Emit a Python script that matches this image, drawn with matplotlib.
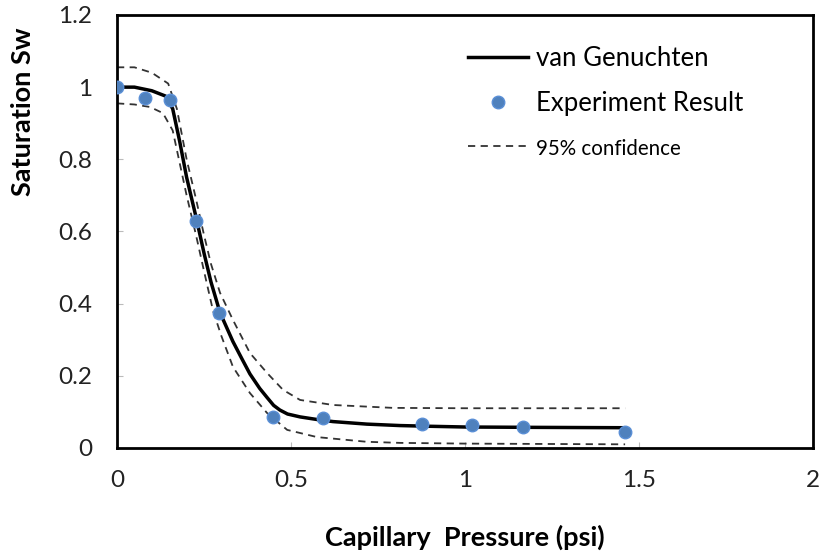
import matplotlib.pyplot as plt

# experiment points
exp_x = [0.0, 0.080, 0.152, 0.227, 0.293, 0.448, 0.592, 0.876, 1.020, 1.167, 1.460]
exp_y = [1.0, 0.970, 0.965, 0.629, 0.375, 0.086, 0.083, 0.066, 0.064, 0.058, 0.044]

# van Genuchten fit
fit_x = [0.0, 0.05, 0.10, 0.14, 0.16, 0.18, 0.20, 0.227, 0.25, 0.27, 0.296, 0.333,
         0.36, 0.382, 0.41, 0.431, 0.45, 0.468, 0.49, 0.526, 0.58, 0.621, 0.718,
         0.813, 0.9, 1.0, 1.2, 1.46]
fit_y = [1.0, 1.0, 0.99, 0.975, 0.94, 0.85, 0.75, 0.64, 0.54, 0.46, 0.375, 0.295,
         0.245, 0.205, 0.165, 0.14, 0.118, 0.105, 0.094, 0.086, 0.078, 0.073, 0.066,
         0.062, 0.060, 0.058, 0.057, 0.056]

# 95% confidence band
up_x = [0.0, 0.05, 0.10, 0.147, 0.172, 0.20, 0.227, 0.25, 0.27, 0.296, 0.333, 0.382,
        0.431, 0.477, 0.526, 0.621, 0.793, 1.0, 1.46]
up_y = [1.055, 1.055, 1.04, 1.01, 0.94, 0.80, 0.69, 0.59, 0.51, 0.43, 0.355, 0.263,
        0.208, 0.161, 0.133, 0.119, 0.111, 0.11, 0.11]
lo_x = [0.0, 0.05, 0.095, 0.132, 0.16, 0.18, 0.20, 0.227, 0.25, 0.276, 0.30, 0.333,
        0.382, 0.431, 0.489, 0.575, 0.718, 0.813, 1.0, 1.46]
lo_y = [0.955, 0.952, 0.945, 0.928, 0.88, 0.79, 0.70, 0.59, 0.49, 0.38, 0.31, 0.225,
        0.152, 0.097, 0.05, 0.03, 0.017, 0.014, 0.012, 0.010]

xticks = [0, 0.5, 1, 1.5, 2]
yticks = [0, 0.2, 0.4, 0.6, 0.8, 1, 1.2]

plt.rcParams['font.family'] = ['Lato', 'DejaVu Sans']

fig = plt.figure(figsize=(8.2, 5.53), dpi=100)
ax = fig.add_axes([0.1427, 0.19, 0.8488, 0.7829])

ax.plot(fit_x, fit_y, color='black', lw=2.5, label='van Genuchten', zorder=3)
ax.plot(exp_x, exp_y, 'o', color='#4F81BD', ms=9, mec='#5a8fd6', label='Experiment Result', zorder=4)
ax.plot(up_x, up_y, color='#333333', lw=1.3, dashes=(4, 3), label='95% confidence', zorder=2)
ax.plot(lo_x, lo_y, color='#333333', lw=1.3, dashes=(4, 3), zorder=2)

ax.set_xlim(0, 2)
ax.set_ylim(0, 1.2)
ax.set_xticks(xticks)
ax.set_xticklabels(['0', '0.5', '1', '1.5', '2'])
ax.set_yticks(yticks)
ax.set_yticklabels(['0', '0.2', '0.4', '0.6', '0.8', '1', '1.2'])
ax.tick_params(direction='in', length=4, color='#bbbbbb', labelsize=17.5, colors='#222222')
ax.tick_params(axis='x', pad=16)
ax.tick_params(axis='y', pad=18)
for s in ax.spines.values():
    s.set_linewidth(2)
    s.set_color('black')

ax.set_xlabel('Capillary  Pressure (psi)', fontsize=19.5, fontweight='bold', labelpad=24)
ax.set_ylabel('Saturation Sw', fontsize=19.5, fontweight='bold')
ax.yaxis.set_label_coords(-0.118, 0.776)

leg = ax.legend(loc='upper left', bbox_to_anchor=(0.471, 0.982), frameon=False,
                fontsize=18.5, handlelength=2.35, handletextpad=0.3, labelspacing=0.8)
leg.get_texts()[2].set_fontsize(14.8)

fig.savefig('out.png', dpi=100)
